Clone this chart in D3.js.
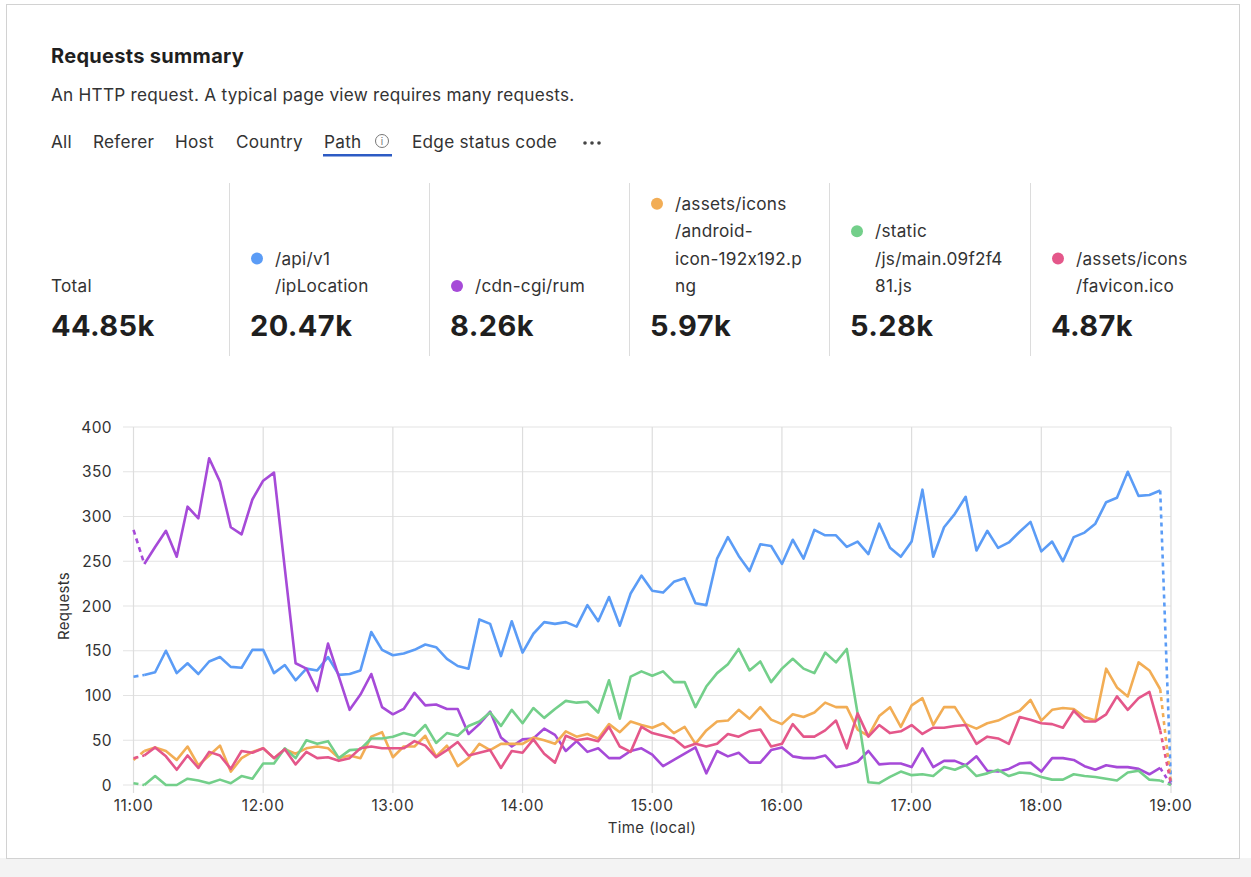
<!DOCTYPE html>
<html>
<head>
<meta charset="utf-8">
<script src="https://cdn.jsdelivr.net/npm/d3@7"></script>
<style>
  html, body { margin: 0; padding: 0; background: #fff; }
  svg { display: block; font-family: Inter, "Open Sans", sans-serif; font-feature-settings: "calt" 0; }
</style>
</head>
<body>
<svg id="chart" width="1251" height="877"></svg>
<script>
// 5 minute buckets from 11:00 to 19:00
var startTime = new Date(2024, 0, 1, 11, 0);
var endTime = new Date(2024, 0, 1, 19, 0);
var stepMinutes = 5;

var apiV1 = [121,123,126,150,125,136,124,138,143,132,131,151,151,125,134,117,130,128,143,123,124,
  128,171,151,145,147,151,157,154,141,133,130,185,180,144,183,148,169,182,180,182,
  177,201,183,210,178,214,234,217,215,227,231,203,201,253,277,256,239,269,267,247,
  274,253,285,279,279,266,272,258,292,265,255,272,330,255,288,303,322,262,284,265,
  271,283,294,261,272,250,277,282,292,316,321,350,323,324,329,0];
var cdnRum = [285,247,266,284,255,311,298,365,339,288,280,319,340,349,242,136,130,105,158,121,84,
  101,124,87,79,85,103,89,90,85,85,57,68,82,53,43,51,52,63,56,38,
  49,37,41,30,30,38,41,34,21,28,35,42,13,38,32,36,25,25,39,42,
  32,30,30,33,20,22,26,38,23,24,24,20,41,20,27,27,22,32,16,15,
  18,24,25,15,30,30,28,21,17,22,20,20,18,12,19,0];
var androidIcon = [28,38,42,38,28,43,22,33,44,15,30,37,41,30,40,35,41,43,41,30,33,
  30,54,59,31,43,43,55,32,44,21,30,46,39,46,46,46,53,50,46,60,
  54,57,52,68,59,71,67,64,69,58,65,46,61,71,72,84,74,87,73,68,
  79,76,81,92,87,87,62,55,77,87,65,89,97,67,87,87,68,63,69,72,
  78,83,95,72,84,86,85,76,72,130,109,99,137,128,107,1];
var mainJs = [2,0,10,0,0,7,5,2,6,2,10,7,24,24,41,30,50,46,49,30,39,
  40,52,52,54,58,55,67,47,58,55,66,71,81,66,84,69,86,75,85,94,
  92,93,81,117,74,121,127,122,127,115,115,87,110,125,135,152,128,138,115,130,
  141,130,125,148,137,152,80,3,2,9,15,11,12,10,20,17,22,10,13,17,
  10,14,13,9,6,6,12,10,9,7,5,14,16,6,5,0];
var favicon = [30,33,42,32,17,33,19,37,33,18,38,36,41,30,40,23,37,30,31,27,30,
  41,43,41,41,41,49,44,31,39,48,33,36,39,19,38,36,51,35,25,55,
  50,52,49,65,43,37,65,58,55,52,42,46,43,46,57,54,60,62,43,46,
  68,54,54,61,72,41,80,54,67,58,60,67,57,64,64,66,67,46,54,52,
  46,76,73,69,68,64,83,71,71,79,99,84,97,104,61,1];

var seriesNames = ['/api/v1/ipLocation','/cdn-cgi/rum','/assets/icons/android-icon-192x192.png','/static/js/main.09f2f481.js','/assets/icons/favicon.ico'];
var seriesValues = [apiV1, cdnRum, androidIcon, mainJs, favicon];
var seriesColors = ['#5b9cf6','#a64ad8','#f2ad55','#73cf8a','#e4578a'];

// summary cards
var cardLabels = [['Total'], ['/api/v1','/ipLocation'], ['/cdn-cgi/rum'], ['/assets/icons','/android-','icon-192x192.p','ng'], ['/static','/js/main.09f2f4','81.js'], ['/assets/icons','/favicon.ico']];
var cardTotals = ['44.85k','20.47k','8.26k','5.97k','5.28k','4.87k'];
var cardColors = [null].concat(seriesColors);

var tabs = ['All','Referer','Host','Country','Path','Edge status code'];
var tabX = [51,93,175,236,324,412];

var yTicks = [0,50,100,150,200,250,300,350,400];

var svg = d3.select('#chart');

// card frame
svg.append('rect').attr('x',0).attr('y',858).attr('width',1251).attr('height',19).attr('fill','#f3f3f3');
svg.append('rect').attr('x',6.5).attr('y',4.5).attr('width',1233).attr('height',854)
  .attr('fill','#fff').attr('stroke','#d2d2d2');

svg.append('text').attr('x',51).attr('y',63).text('Requests summary')
  .attr('font-size',20).attr('font-weight',700).attr('fill','#1f1f1f').attr('letter-spacing',0.3);
svg.append('text').attr('x',51).attr('y',101).text('An HTTP request. A typical page view requires many requests.')
  .attr('font-size',17.2).attr('letter-spacing',0.25).attr('fill','#333');

tabs.forEach(function(t,i){
  svg.append('text').attr('x',tabX[i]).attr('y',148).text(t).attr('font-size',17.2)
    .attr('letter-spacing',0.25).attr('fill','#333');
});
// info icon next to Path
svg.append('circle').attr('cx',382).attr('cy',141).attr('r',6.5).attr('fill','none').attr('stroke','#777').attr('stroke-width',1);
svg.append('text').attr('x',382).attr('y',145).attr('text-anchor','middle').text('i').attr('font-size',10).attr('fill','#777');
// more dots
[585,592,599].forEach(function(cx){
  svg.append('circle').attr('cx',cx).attr('cy',143).attr('r',1.8).attr('fill','#444');
});
svg.append('rect').attr('x',323).attr('y',154).attr('width',69).attr('height',2.5).attr('fill','#2c5bc4');

// summary columns
var colX = [51,250,450,650,850,1051];
colX.forEach(function(cx,i){
  if (i > 0) {
    svg.append('line').attr('x1',cx-20.5).attr('x2',cx-20.5).attr('y1',183).attr('y2',356)
      .attr('stroke','#dcdcdc');
  }
  var lines = cardLabels[i];
  var textX = cardColors[i] ? cx + 25 : cx;
  lines.forEach(function(l,j){
    var cy = 286 - (lines.length-1-j)*27.4;
    svg.append('text').attr('x',textX).attr('y',cy+6).text(l).attr('font-size',17.2)
      .attr('letter-spacing',0.25).attr('fill','#333');
  });
  if (cardColors[i]) {
    var topY = 286 - (lines.length-1)*27.4;
    svg.append('circle').attr('cx',cx+7).attr('cy',topY).attr('r',6).attr('fill',cardColors[i]);
  }
  svg.append('text').attr('x',cx).attr('y',336).text(cardTotals[i])
    .attr('font-size',29).attr('font-weight',700).attr('letter-spacing',0.4).attr('fill','#1f1f1f');
});

// chart
var x = d3.scaleTime().domain([startTime,endTime]).range([133.5,1171]);
var y = d3.scaleLinear().domain([0,400]).range([785,427]);
var times = apiV1.map(function(d,i){ return new Date(startTime.getTime() + i*stepMinutes*60000); });

var g = svg.append('g');
g.selectAll('.hgrid').data(yTicks).enter().append('line')
  .attr('x1',123).attr('x2',1171).attr('y1',function(d){return y(d);}).attr('y2',function(d){return y(d);})
  .attr('stroke','#e3e3e3').attr('stroke-width',1.2);
g.selectAll('.vgrid').data(x.ticks(d3.timeHour.every(1))).enter().append('line')
  .attr('x1',function(d){return x(d);}).attr('x2',function(d){return x(d);})
  .attr('y1',427).attr('y2',793).attr('stroke','#dddddd').attr('stroke-width',1.2);

g.selectAll('.ylab').data(yTicks).enter().append('text')
  .attr('x',112).attr('y',function(d){return y(d)+5.5;}).attr('text-anchor','end')
  .text(function(d){return d;}).attr('font-size',15.5).attr('letter-spacing',0.4).attr('fill','#333');
g.selectAll('.xlab').data(x.ticks(d3.timeHour.every(1))).enter().append('text')
  .attr('x',function(d){return x(d);}).attr('y',811).attr('text-anchor','middle')
  .text(d3.timeFormat('%H:%M')).attr('font-size',15.5).attr('letter-spacing',0.6).attr('fill','#333');
svg.append('text').attr('transform','translate(69,606) rotate(-90)').attr('text-anchor','middle')
  .text('Requests').attr('font-size',15).attr('letter-spacing',0.3).attr('fill','#333');
svg.append('text').attr('x',652).attr('y',833).attr('text-anchor','middle')
  .text('Time (local)').attr('font-size',15).attr('letter-spacing',0.4).attr('fill','#333');

var line = d3.line().x(function(d){return x(d.t);}).y(function(d){return y(d.v);});
var n = times.length;
seriesValues.forEach(function(vals,k){
  var pts = vals.map(function(v,i){ return {t:times[i], v:v}; });
  g.append('path').datum(pts.slice(1,n-1)).attr('d',line).attr('fill','none')
    .attr('stroke',seriesColors[k]).attr('stroke-width',2.6).attr('stroke-linejoin','round');
  g.append('path').datum(pts.slice(0,2)).attr('d',line).attr('fill','none')
    .attr('stroke',seriesColors[k]).attr('stroke-width',2.6).attr('stroke-dasharray','5,4');
  g.append('path').datum(pts.slice(n-2)).attr('d',line).attr('fill','none')
    .attr('stroke',seriesColors[k]).attr('stroke-width',2.6).attr('stroke-dasharray','4,4');
});
</script>
</body>
</html>
